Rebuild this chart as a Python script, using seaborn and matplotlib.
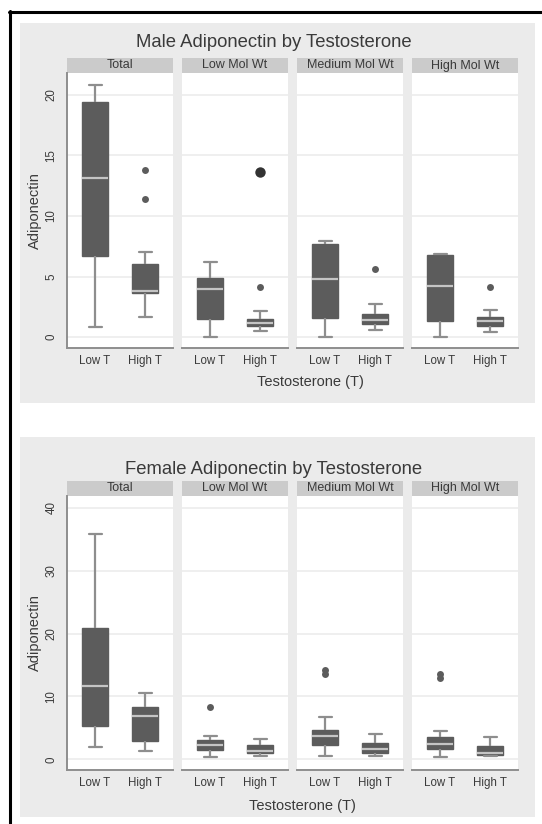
import numpy as np
import pandas as pd
import matplotlib
matplotlib.use("Agg")
import matplotlib.pyplot as plt
from matplotlib.patches import Rectangle
from matplotlib.lines import Line2D
import seaborn as sns

# ---------------- data ----------------
facets = ["Total", "Low Mol Wt", "Medium Mol Wt", "High Mol Wt"]
t_levels = ["Low T", "High T"]

# five-number summaries: [lower whisker, Q1, median, Q3, upper whisker]
male_low_t = [[0.8, 6.7, 13.1, 19.4, 20.8],
              [0.0, 1.5, 4.0, 4.9, 6.2],
              [0.0, 1.6, 4.8, 7.7, 7.9],
              [0.0, 1.35, 4.2, 6.8, 6.85]]
male_high_t = [[1.7, 3.6, 3.8, 6.0, 7.0],
               [0.5, 0.9, 1.2, 1.5, 2.15],
               [0.6, 1.05, 1.4, 1.9, 2.7],
               [0.45, 0.9, 1.35, 1.7, 2.2]]
male_out_facet = ["Total", "Total", "Low Mol Wt", "Medium Mol Wt", "High Mol Wt"]
male_out_t = ["High T", "High T", "High T", "High T", "High T"]
male_out_val = [13.8, 11.4, 4.1, 5.6, 4.1]
male_big_out = [("Low Mol Wt", "High T", 13.65)]

female_low_t = [[2.0, 5.3, 11.65, 20.9, 35.8],
                [0.3, 1.5, 2.2, 3.1, 3.7],
                [0.5, 2.3, 3.7, 4.65, 6.8],
                [0.3, 1.6, 2.5, 3.5, 4.5]]
female_high_t = [[1.4, 2.9, 6.9, 8.4, 10.5],
                 [0.5, 0.95, 1.4, 2.3, 3.2],
                 [0.5, 0.95, 1.6, 2.65, 4.0],
                 [0.5, 0.7, 1.05, 2.1, 3.5]]
female_out_facet = ["Low Mol Wt", "Medium Mol Wt", "Medium Mol Wt", "High Mol Wt", "High Mol Wt"]
female_out_t = ["Low T", "Low T", "Low T", "Low T", "Low T"]
female_out_val = [8.3, 13.5, 14.2, 13.0, 13.5]

male_ticks = [0, 5, 10, 15, 20]
female_ticks = [0, 10, 20, 30, 40]

# ---------------- styling ----------------
sns.set_style("white")
plt.rcParams["font.family"] = ["Liberation Sans", "DejaVu Sans"]

W, H = 542, 824
fig = plt.figure(figsize=(W / 100, H / 100), dpi=100)
fig.patch.set_facecolor("white")

BG = "#ebebeb"
STRIP = "#cbcbcb"
BOX = "#5c5c5c"
MED = "#c4c4c4"
WHISK = "#8e8e8e"
TXT = "#3a3a3a"


def fx(px):
    return px / W


def fy(py):
    return 1 - py / H


def make_long(low, high):
    rows = []
    for f, lo, hi in zip(facets, low, high):
        for v in lo:
            rows.append((f, "Low T", v))
        for v in hi:
            rows.append((f, "High T", v))
    return pd.DataFrame(rows, columns=["facet", "T", "value"])


def draw_panel(title, low, high, out_facet, out_t, out_val, big_out, ticks, ylim,
               bg_top, bg_bot, title_base, ax_top, ax_bot, xlabel_y, xlabel_x):
    # gray panel background
    fig.patches.append(Rectangle((fx(20), fy(bg_bot)), fx(535) - fx(20), fy(bg_top) - fy(bg_bot),
                                 transform=fig.transFigure, facecolor=BG, edgecolor="none", zorder=-5))
    fig.text(fx(274), fy(title_base), title, ha="center", va="baseline", fontsize=13.3, color=TXT)
    df = make_long(low, high)
    odf = pd.DataFrame({"facet": out_facet, "T": out_t, "value": out_val})
    lefts = [67, 182, 297, 412]
    width = 106
    for i, (f, lx) in enumerate(zip(facets, lefts)):
        ax = fig.add_axes([fx(lx), fy(ax_bot), fx(width), fy(ax_top) - fy(ax_bot)])
        ax.set_facecolor("white")
        for t in ticks:
            ax.axhline(t, color="#ececec", lw=1.2, zorder=0)
        sub = df[df["facet"] == f]
        sns.boxplot(data=sub, x="T", y="value", order=t_levels, ax=ax, width=0.52,
                    whis=(0, 100), showfliers=False, color=BOX, saturation=1,
                    linecolor=BOX, linewidth=1.0,
                    medianprops=dict(color=MED, linewidth=1.6),
                    whiskerprops=dict(color=WHISK, linewidth=1.6),
                    capprops=dict(color=WHISK, linewidth=1.6))
        osub = odf[odf["facet"] == f]
        if len(osub):
            sns.stripplot(data=osub, x="T", y="value", order=t_levels, ax=ax, jitter=False,
                          color=BOX, size=5, linewidth=0)
        bsub = [b for b in big_out if b[0] == f]
        if bsub:
            bdf = pd.DataFrame({"T": [b[1] for b in bsub], "value": [b[2] for b in bsub]})
            sns.stripplot(data=bdf, x="T", y="value", order=t_levels, ax=ax, jitter=False,
                          color="#333333", size=7.5, linewidth=0)
        ax.set_xlim(-0.56, 1.56)
        ax.set_ylim(*ylim)
        ax.set_yticks(ticks)
        ax.set_xlabel("")
        ax.set_ylabel("")
        for s in ["top", "right"]:
            ax.spines[s].set_visible(False)
        ax.spines["bottom"].set_color(WHISK)
        ax.spines["bottom"].set_linewidth(1.4)
        ax.tick_params(axis="x", length=0, pad=5, labelsize=8.3, labelcolor=TXT)
        if i == 0:
            ax.spines["left"].set_color(WHISK)
            ax.spines["left"].set_linewidth(1.4)
            ax.tick_params(axis="y", length=5, width=1, color=WHISK, pad=2,
                           labelsize=8.3, labelcolor=TXT, labelrotation=90)
            for lab in ax.get_yticklabels():
                lab.set_va("center")
        else:
            ax.spines["left"].set_visible(False)
            ax.tick_params(axis="y", left=False, labelleft=False)
        # facet strip
        ax.add_patch(Rectangle((0, 1), 1, 15 / (ax_bot - ax_top), transform=ax.transAxes,
                               facecolor=STRIP, edgecolor="none", clip_on=False))
        ax.text(0.5, 1 + 7.5 / (ax_bot - ax_top), f, transform=ax.transAxes,
                ha="center", va="center", fontsize=9, color=TXT)
    fig.text(fx(35), fy((ax_top + ax_bot) / 2), "Adiponectin", rotation=90,
             ha="center", va="center", fontsize=10.5, color=TXT)
    fig.text(fx(xlabel_x), fy(xlabel_y), "Testosterone (T)", ha="center", va="center",
             fontsize=10.5, color=TXT)


draw_panel("Male Adiponectin by Testosterone", male_low_t, male_high_t,
           male_out_facet, male_out_t, male_out_val, male_big_out, male_ticks, (-0.9, 21.8),
           23, 403, 47, 73, 348, 382, 310)
draw_panel("Female Adiponectin by Testosterone", female_low_t, female_high_t,
           female_out_facet, female_out_t, female_out_val, [], female_ticks, (-1.7, 41.9),
           437, 817, 474, 496, 770, 806, 302)

# outer black frame (left and top edges)
fig.lines.append(Line2D([fx(9.5), fx(9.5)], [fy(11), fy(824)], transform=fig.transFigure,
                        color="black", lw=2.2))
fig.lines.append(Line2D([fx(8.5), fx(542)], [fy(12), fy(12)], transform=fig.transFigure,
                        color="black", lw=2.2))

fig.savefig("out.png", dpi=100)
